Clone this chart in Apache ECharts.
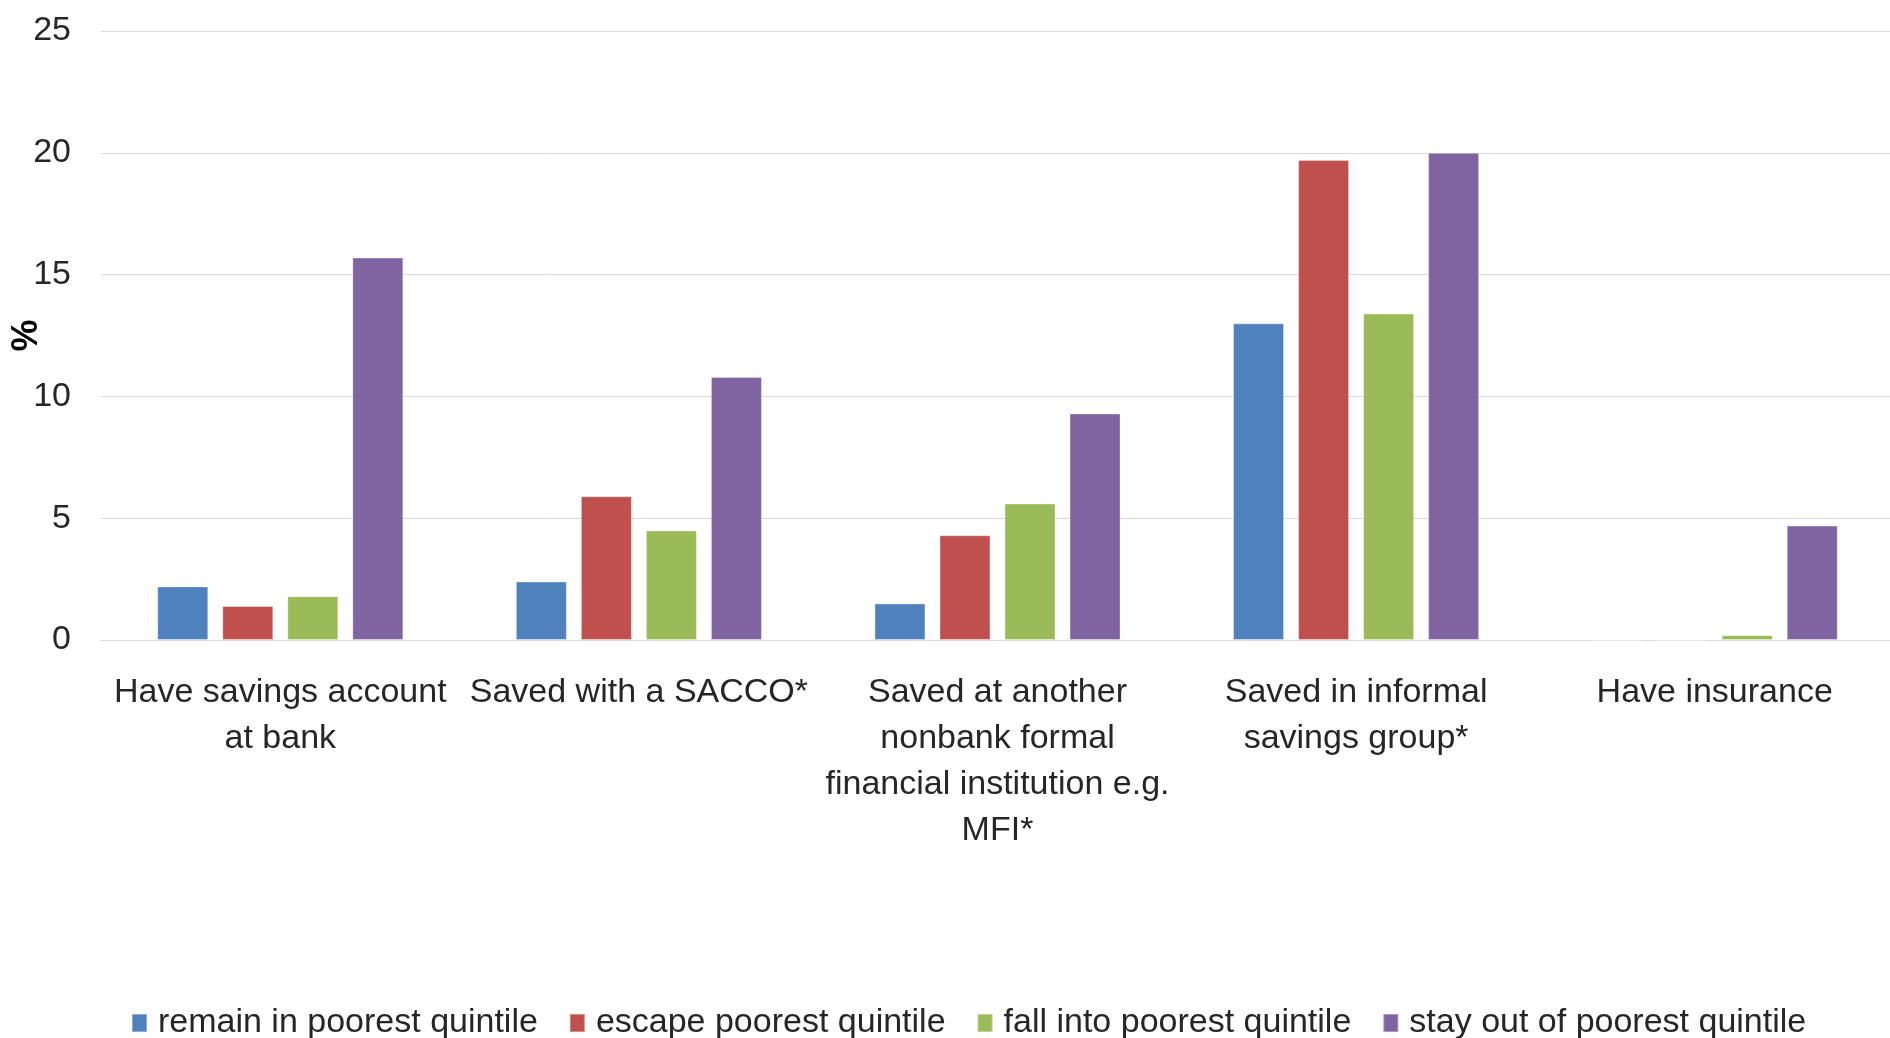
<!DOCTYPE html>
<html>
<head>
<meta charset="utf-8">
<title>Savings and insurance by poverty transition</title>
<script src="https://cdn.jsdelivr.net/npm/echarts@6/dist/echarts.min.js"></script>
<style>
  html, body { margin: 0; padding: 0; background: #ffffff; }
  #chart { width: 1890px; height: 1038px; }
</style>
</head>
<body>
<div id="chart"></div>
<script>
// Category labels (x axis)
const categories = [
  'Have savings account\nat bank',
  'Saved with a SACCO*',
  'Saved at another\nnonbank formal\nfinancial institution e.g.\nMFI*',
  'Saved in informal\nsavings group*',
  'Have insurance'
];

// Share of households (%) per transition group
const remainPoorest = [2.2, 2.4, 1.5, 13.0, 0];
const escapePoorest = [1.4, 5.9, 4.3, 19.7, 0];
const fallIntoPoorest = [1.8, 4.5, 5.6, 13.4, 0.2];
const stayOutPoorest = [15.7, 10.8, 9.3, 20.0, 4.7];

const seriesNames = [
  'remain in poorest quintile',
  'escape poorest quintile',
  'fall into poorest quintile',
  'stay out of poorest quintile'
];
const seriesColors = ['#4F81BD', '#C0504D', '#9BBB59', '#8064A2'];
const seriesData = [remainPoorest, escapePoorest, fallIntoPoorest, stayOutPoorest];

const FONT = '"Liberation Sans", Arial, sans-serif';
const TEXT = '#262626';

const chart = echarts.init(document.getElementById('chart'), null, { renderer: 'canvas' });

chart.setOption({
  backgroundColor: '#ffffff',
  animation: false,
  textStyle: { fontFamily: FONT, color: TEXT },
  grid: {
    left: 101, top: 31, width: 1793, height: 609,
    containLabel: false,
    outerBoundsMode: 'none'
  },
  legend: {
    left: 126,
    top: 998,
    itemWidth: 15,
    itemHeight: 18,
    itemGap: 31,
    icon: 'rect',
    textStyle: { fontFamily: FONT, fontSize: 34, color: TEXT, lineHeight: 40, padding: [0, 0, 0, 6] },
    data: seriesNames
  },
  xAxis: {
    type: 'category',
    data: categories,
    axisLine: { show: true, lineStyle: { color: '#d9d9d9', width: 1 } },
    axisTick: { show: false },
    axisLabel: {
      interval: 0,
      margin: 30,
      fontFamily: FONT,
      fontSize: 34,
      lineHeight: 46,
      color: TEXT,
      align: 'center'
    }
  },
  yAxis: {
    type: 'value',
    min: 0,
    max: 25,
    interval: 5,
    name: '%',
    nameLocation: 'middle',
    nameRotate: 90,
    nameGap: 56,
    nameMoveOverlap: false,
    nameTextStyle: { fontFamily: FONT, fontSize: 36, fontWeight: 'bold', color: '#000' },
    axisLine: { show: false },
    axisTick: { show: false },
    splitLine: { lineStyle: { color: '#d9d9d9', width: 1 } },
    axisLabel: { margin: 30, fontFamily: FONT, fontSize: 34, color: TEXT }
  },
  series: seriesData.map((values, i) => ({
    name: seriesNames[i],
    type: 'bar',
    data: values,
    barWidth: 51,
    barGap: '27.5%',
    itemStyle: {
      color: seriesColors[i],
      borderColor: 'rgba(255,255,255,0.35)',
      borderWidth: 1
    }
  }))
});
</script>
</body>
</html>
